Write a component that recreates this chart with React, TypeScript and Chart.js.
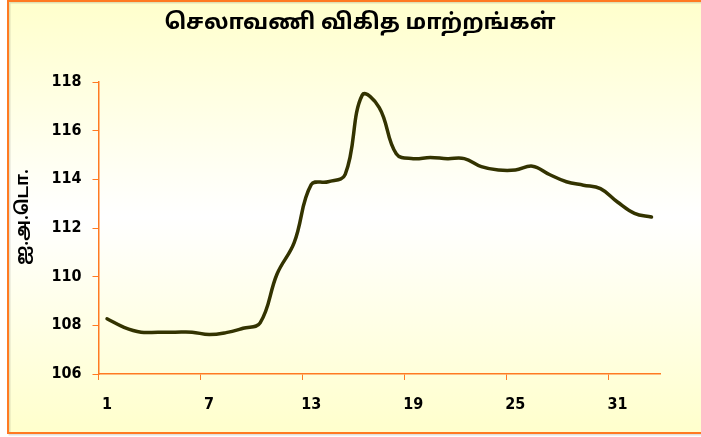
import React, { useEffect, useRef } from "react";
import { Chart, registerables } from "chart.js";

Chart.register(...registerables);

const chartTitle = "செலாவணி விகித மாற்றங்கள்";
const yAxisTitle = "ஐ.அ.டொ.";

const categories = [
  "1", "2", "3", "4", "5", "6", "7", "8", "9", "10", "11",
  "12", "13", "14", "15", "16", "17", "18", "19", "20", "21", "22",
  "23", "24", "25", "26", "27", "28", "29", "30", "31", "32", "33",
];

const rates = [
  108.27, 107.92, 107.72, 107.72, 107.72, 107.72, 107.62, 107.7, 107.88, 108.1, 110.12,
  111.4, 113.78, 113.9, 114.2, 117.46, 116.95, 115.05, 114.85, 114.9, 114.85, 114.85,
  114.52, 114.38, 114.38, 114.54, 114.2, 113.9, 113.76, 113.62, 113.07, 112.6, 112.45,
];

const yMin = 106;
const yMax = 118;
const yStep = 2;
const labelEvery = 6;

const ORANGE = "#FF7A22";
const tamilFont = "'Noto Sans Tamil', 'Lohit Tamil', 'Noto Sans', 'DejaVu Sans', sans-serif";
const numFont = "'DejaVu Sans Condensed', 'DejaVu Sans', sans-serif";

const backgroundPlugin = {
  id: "bgPlugin",
  beforeDraw(chart: any) {
    const ctx = chart.ctx;
    ctx.save();
    ctx.fillStyle = "#ffffff";
    ctx.fillRect(0, 0, chart.width, chart.height);
    const g = ctx.createLinearGradient(0, 1, 0, 433);
    g.addColorStop(0, "#FFFFCC");
    g.addColorStop(0.5, "#FFFFFF");
    g.addColorStop(1, "#FFFFCC");
    ctx.fillStyle = g;
    ctx.fillRect(8, 1, chart.width, 432);
    ctx.strokeStyle = "rgba(0,0,0,0.12)";
    ctx.lineWidth = 2;
    ctx.strokeRect(9.5, 2.5, chart.width + 10, 432);
    ctx.strokeStyle = ORANGE;
    ctx.lineWidth = 2;
    ctx.strokeRect(8, 1, chart.width + 10, 432);
    ctx.restore();
  },
  afterDraw(chart: any) {
    const ctx = chart.ctx;
    ctx.save();
    ctx.fillStyle = "#000000";
    ctx.font = `bold 22px ${tamilFont}`;
    ctx.textAlign = "center";
    ctx.textBaseline = "middle";
    ctx.fillText(chartTitle, 360, 25);
    ctx.translate(25, 217);
    ctx.rotate(-Math.PI / 2);
    ctx.font = `bold 17px ${tamilFont}`;
    ctx.fillText(yAxisTitle, 0, 0);
    ctx.restore();
  },
};

export default function App() {
  const canvasRef = useRef<HTMLCanvasElement | null>(null);

  useEffect(() => {
    document.body.style.margin = "0";
    const canvas = canvasRef.current;
    if (!canvas) return;
    const chart = new Chart(canvas, {
      type: "line",
      data: {
        labels: categories,
        datasets: [
          {
            data: rates,
            borderColor: "#333300",
            borderWidth: 3.5,
            pointRadius: 0,
            tension: 0.4,
            fill: false,
            borderCapStyle: "round",
            borderJoinStyle: "round",
          },
        ],
      },
      options: {
        responsive: false,
        animation: false,
        devicePixelRatio: 1,
        layout: { padding: { left: 0, right: 41, top: 82, bottom: 0 } },
        plugins: {
          legend: { display: false },
          tooltip: { enabled: false },
          title: { display: false },
        },
        scales: {
          x: {
            type: "category",
            offset: true,
            grid: {
              offset: true,
              drawOnChartArea: false,
              drawTicks: true,
              tickLength: 6,
              tickColor: (ctx: any) => (ctx.index % labelEvery === 0 && ctx.index < categories.length ? ORANGE : "rgba(0,0,0,0)"),
              color: "rgba(0,0,0,0)",
            },
            border: { display: true, color: ORANGE, width: 1.5 },
            ticks: {
              autoSkip: false,
              maxRotation: 0,
              minRotation: 0,
              padding: 15,
              color: "#000000",
              font: { family: numFont, size: 16, weight: "bold" },
              callback: (_v: any, i: number) => (i % labelEvery === 0 ? categories[i] : ""),
            },
            afterFit: (s: any) => {
              s.height = 63;
            },
          },
          y: {
            min: yMin,
            max: yMax,
            grid: {
              drawOnChartArea: false,
              tickLength: 6,
              tickColor: ORANGE,
              color: "rgba(0,0,0,0)",
            },
            border: { display: true, color: ORANGE, width: 1.5 },
            ticks: {
              stepSize: yStep,
              padding: 11,
              color: "#000000",
              font: { family: numFont, size: 16, weight: "bold" },
            },
            afterFit: (s: any) => {
              s.width = 98.5;
            },
          },
        },
      },
      plugins: [backgroundPlugin],
    });
    return () => chart.destroy();
  }, []);

  return <canvas ref={canvasRef} width={701} height={437} style={{ display: "block" }} />;
}
